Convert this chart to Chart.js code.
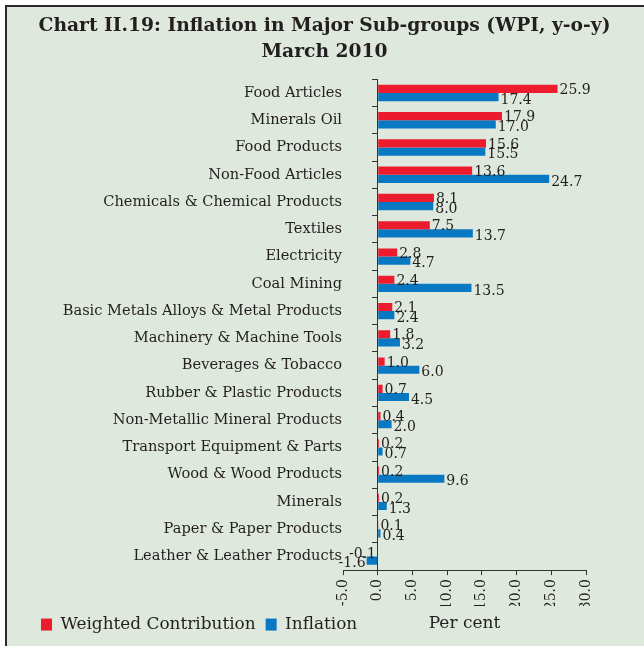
<!DOCTYPE html>
<html>
<head>
<meta charset="utf-8">
<script src="https://cdn.jsdelivr.net/npm/chart.js@4"></script>
<style>
  html, body { margin: 0; padding: 0; background: #fff; overflow: hidden; }
  #frame {
    position: absolute; left: 5px; top: 5px; width: 700px; height: 700px;
    border-left: 2px solid #2b2b2b; border-top: 2px solid #2b2b2b;
    background: #dfe8dc;
  }
  #wrap { position: absolute; left: 0; top: 0; width: 644px; height: 646px; }
</style>
</head>
<body>
<div id="frame"></div>
<div id="wrap"><canvas id="chart" width="644" height="646"></canvas></div>
<script>
// --- datos ---
const categories = [
  'Food Articles', 'Minerals Oil', 'Food Products', 'Non-Food Articles',
  'Chemicals & Chemical Products', 'Textiles', 'Electricity', 'Coal Mining',
  'Basic Metals Alloys & Metal Products', 'Machinery & Machine Tools',
  'Beverages & Tobacco', 'Rubber & Plastic Products', 'Non-Metallic Mineral Products',
  'Transport Equipment & Parts', 'Wood & Wood Products', 'Minerals',
  'Paper & Paper Products', 'Leather & Leather Products'
];
const weightedContribution = [25.9, 17.9, 15.6, 13.6, 8.1, 7.5, 2.8, 2.4, 2.1, 1.8, 1.0, 0.7, 0.4, 0.2, 0.2, 0.2, 0.1, -0.1];
const inflation = [17.4, 17.0, 15.5, 24.7, 8.0, 13.7, 4.7, 13.5, 2.4, 3.2, 6.0, 4.5, 2.0, 0.7, 9.6, 1.3, 0.4, -1.6];
const xTicks = [-5, 0, 5, 10, 15, 20, 25, 30];

const FONT = '"DejaVu Serif", serif';
const INK = '#231f20';

// etiquetas de valor al final de cada barra
const valueLabels = {
  id: 'valueLabels',
  afterDatasetsDraw(chart) {
    const ctx = chart.ctx;
    ctx.save();
    ctx.font = '14px ' + FONT;
    ctx.fillStyle = INK;
    ctx.textBaseline = 'middle';
    chart.data.datasets.forEach((ds, i) => {
      const dy = i === 0 ? 1.5 : 3;
      chart.getDatasetMeta(i).data.forEach((bar, j) => {
        const v = ds.data[j];
        const neg = v < 0;
        ctx.textAlign = neg ? 'right' : 'left';
        ctx.fillText(v.toFixed(1), bar.x + (neg ? -1 : 2), bar.y + dy);
      });
    });
    ctx.restore();
  }
};

new Chart(document.getElementById('chart'), {
  type: 'bar',
  data: {
    labels: categories,
    datasets: [
      { label: 'Weighted Contribution', data: weightedContribution, backgroundColor: '#ec1c2e', borderWidth: 0 },
      { label: 'Inflation', data: inflation, backgroundColor: '#0878c2', borderWidth: 0 }
    ]
  },
  options: {
    indexAxis: 'y',
    responsive: false,
    animation: false,
    layout: { padding: { left: 31, right: 26, top: 0, bottom: 3 } },
    datasets: { bar: { categoryPercentage: 0.6, barPercentage: 1.0 } },
    plugins: {
      title: {
        display: true,
        text: ['Chart II.19: Inflation in Major Sub-groups (WPI, y-o-y)', 'March 2010'],
        color: INK,
        font: { family: FONT, size: 18.7, weight: 'bold', lineHeight: 1.4 },
        padding: { top: 13, bottom: 14 }
      },
      legend: {
        position: 'bottom',
        align: 'start',
        labels: { color: INK, font: { family: FONT, size: 16.9 }, boxWidth: 11, boxHeight: 12, padding: 10 }
      },
      tooltip: { enabled: false }
    },
    scales: {
      x: {
        min: -5, max: 30,
        afterBuildTicks: s => { s.ticks = xTicks.map(v => ({ value: v })); },
        afterFit: s => { s.height = 36; s.paddingRight = 58; },
        ticks: {
          color: INK, font: { family: FONT, size: 14 }, padding: 4,
          minRotation: 90, maxRotation: 90, autoSkip: false,
          callback: v => Number(v).toFixed(1)
        },
        grid: { drawOnChartArea: false, drawTicks: true, tickLength: 5, color: '#333' },
        border: { color: '#333', width: 1 },
        title: {
          display: true, text: 'Per cent', color: INK,
          font: { family: FONT, size: 17 }, padding: { top: 0, bottom: -28 }
        }
      },
      y: {
        offset: true,
        afterFit: s => { s.width = 312; },
        ticks: { color: INK, font: { family: FONT, size: 14.6 }, padding: 1, autoSkip: false },
        grid: { display: false, drawTicks: false, tickLength: 0, offset: true },
        border: { display: false }
      },
      // eje vertical dibujado en x = 0
      y0: {
        type: 'category',
        axis: 'y',
        position: { x: 0 },
        offset: true,
        ticks: { display: false },
        grid: { offset: true, drawOnChartArea: false, drawTicks: true, tickLength: 5, color: '#333' },
        border: { color: '#333', width: 1 }
      }
    }
  },
  plugins: [valueLabels]
});
</script>
</body>
</html>
